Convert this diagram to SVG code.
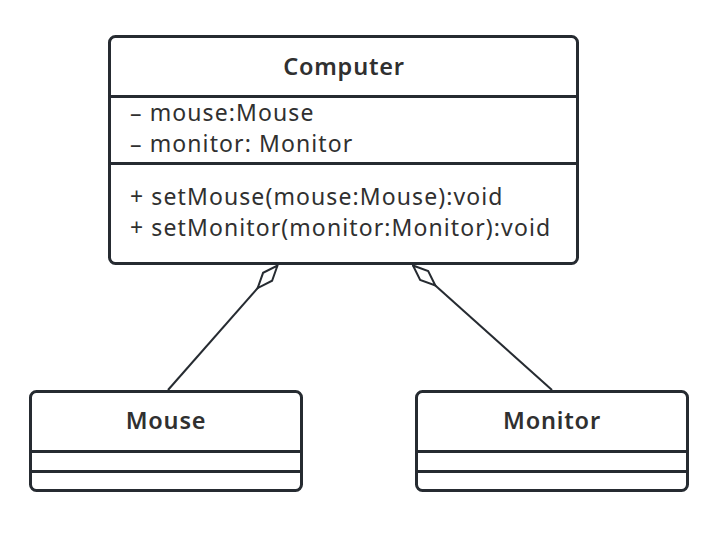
<svg xmlns="http://www.w3.org/2000/svg" width="710" height="540" viewBox="0 0 710 540">
<style>
.box{fill:#fff;stroke:#262b31;stroke-width:3}
.div{stroke:#262b31;stroke-width:3}
.t{font-family:"Noto Sans","Open Sans","Liberation Sans",sans-serif;font-size:23px;letter-spacing:1.1px;fill:#303030}
.title{font-weight:600;text-anchor:middle;font-size:23.5px;letter-spacing:0.8px}
.conn{fill:none;stroke:#262b31;stroke-width:2}
</style>
<defs>
<marker id="agg" markerUnits="userSpaceOnUse" markerWidth="34" markerHeight="16" refX="1" refY="8" orient="auto" viewBox="0 0 34 16">
<path d="M1,8 L16,2 L31,8 L16,14 Z" fill="#fff" stroke="#262b31" stroke-width="2"/>
</marker>
</defs>
<rect width="710" height="540" fill="#fff"/>
<g id="connectors">
<path class="conn" d="M277.5,265.5 L168,390" marker-start="url(#agg)"/>
<path class="conn" d="M413,265.5 L552,390" marker-start="url(#agg)"/>
</g>
<g id="Computer">
<rect class="box" x="109.5" y="36.5" width="468" height="227" rx="6"/>
<line class="div" x1="109.5" y1="96.5" x2="577.5" y2="96.5"/>
<line class="div" x1="109.5" y1="163.5" x2="577.5" y2="163.5"/>
<text class="t title" x="344" y="75">Computer</text>
<text class="t" x="130" y="121">– mouse:Mouse</text>
<text class="t" x="130" y="152">– monitor: Monitor</text>
<text class="t" x="130" y="205">+ setMouse(mouse:Mouse):void</text>
<text class="t" x="130" y="236">+ setMonitor(monitor:Monitor):void</text>
</g>
<g id="Mouse">
<rect class="box" x="30.5" y="391.5" width="271" height="99" rx="6"/>
<line class="div" x1="30.5" y1="451.5" x2="301.5" y2="451.5"/>
<line class="div" x1="30.5" y1="471.5" x2="301.5" y2="471.5"/>
<text class="t title" x="166" y="429">Mouse</text>
</g>
<g id="Monitor">
<rect class="box" x="416.5" y="391.5" width="271" height="99" rx="6"/>
<line class="div" x1="416.5" y1="451.5" x2="687.5" y2="451.5"/>
<line class="div" x1="416.5" y1="471.5" x2="687.5" y2="471.5"/>
<text class="t title" x="552" y="429">Monitor</text>
</g>
</svg>
